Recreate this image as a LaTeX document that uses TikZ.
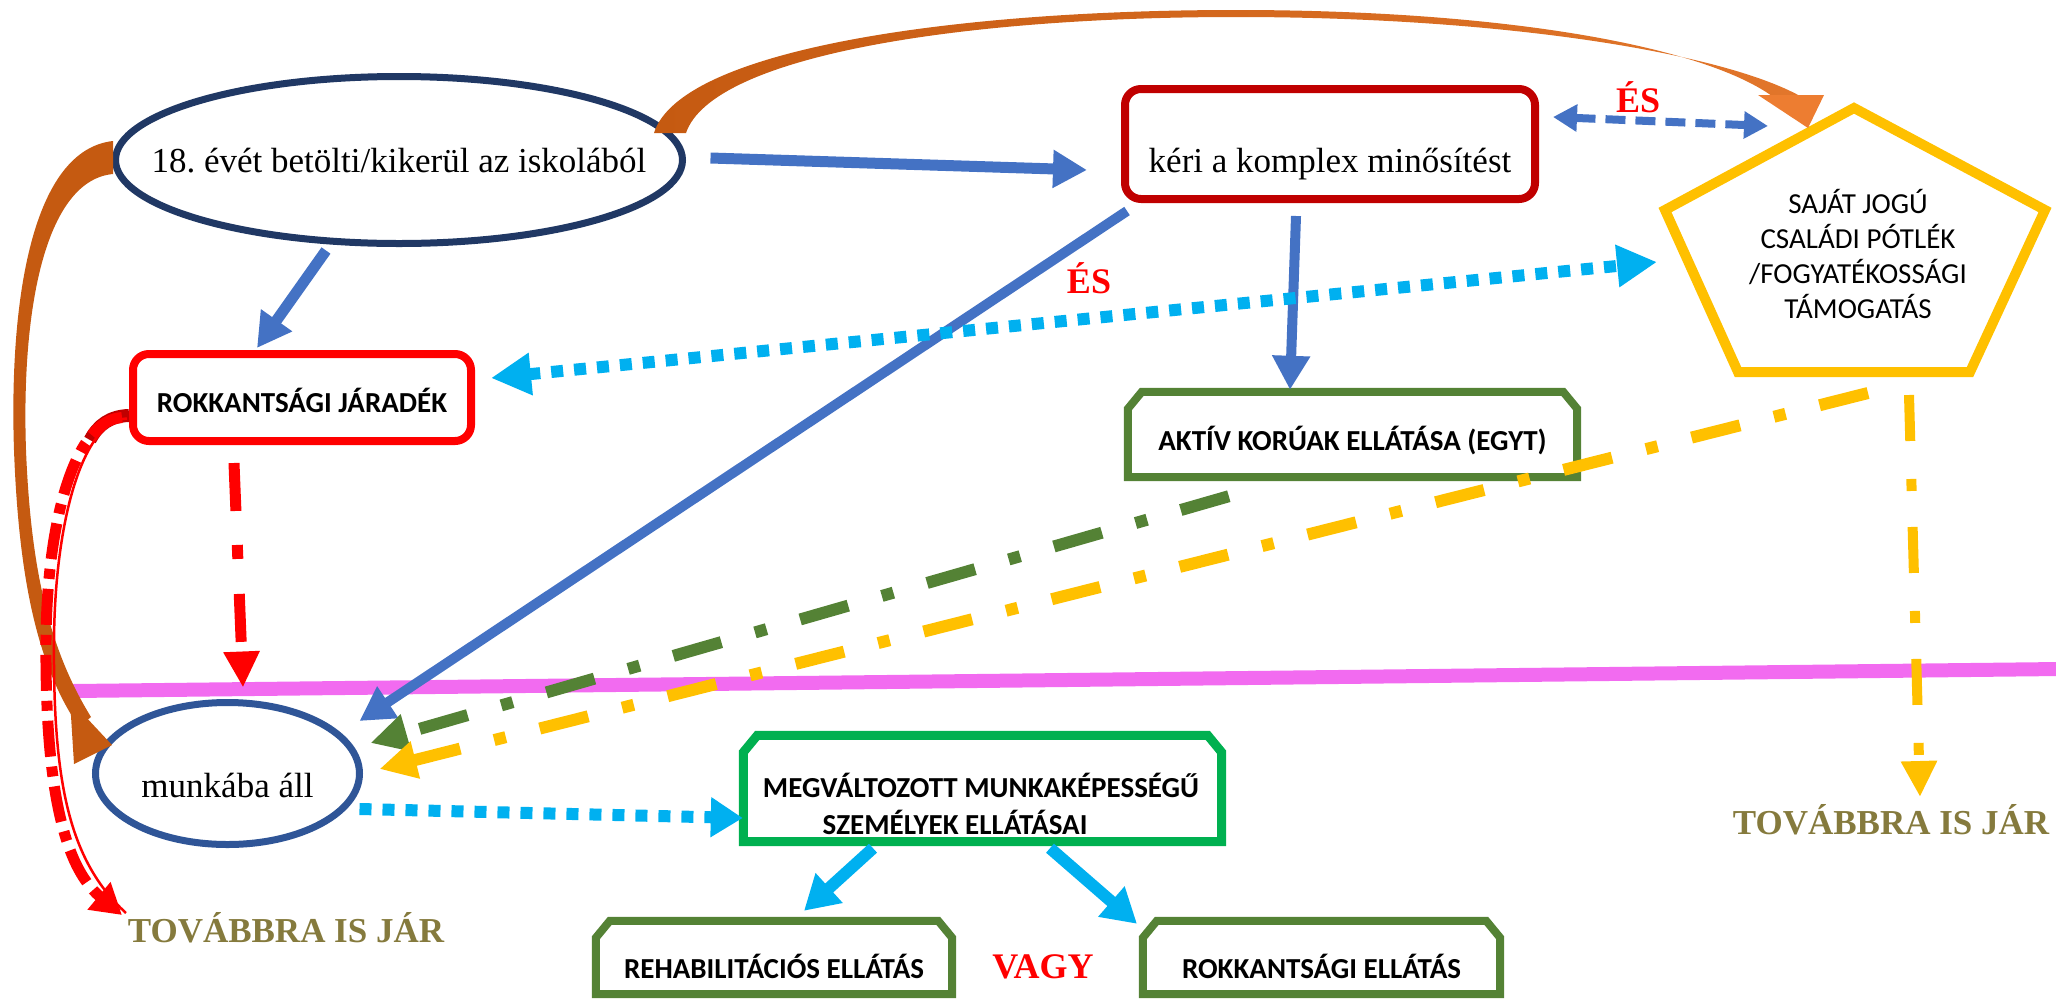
\documentclass[tikz,border=0pt]{standalone}
\usepackage{fontspec}
\setmainfont{Liberation Serif}
\newfontfamily\calib{Carlito}
\usetikzlibrary{arrows.meta,calc,shapes.geometric}
\frenchspacing
\definecolor{navy}{HTML}{203864}
\definecolor{munkblue}{HTML}{2F5597}
\definecolor{blueA}{HTML}{4472C4}
\definecolor{cyanA}{HTML}{00B0F0}
\definecolor{keriRed}{HTML}{C00000}
\definecolor{redA}{HTML}{FF0000}
\definecolor{greenA}{HTML}{548235}
\definecolor{greenB}{HTML}{00B050}
\definecolor{yel}{HTML}{FFC000}
\definecolor{orgdark}{HTML}{C55A11}
\definecolor{orglight}{HTML}{E2762B}
\definecolor{orghead}{HTML}{ED7D31}
\definecolor{pinkA}{HTML}{F26BF0}
\definecolor{oliveA}{HTML}{857A3D}
\newcommand\serifL{\fontsize{35pt}{42pt}\selectfont}
\newcommand\calibB{\calib\bfseries\fontsize{29pt}{35pt}\selectfont}
\newcommand\calibR{\calib\fontsize{29pt}{35.3pt}\selectfont}
\newcommand\esfont{\bfseries\fontsize{36pt}{40pt}\selectfont}
\newcommand\tovfont{\bfseries\fontsize{35pt}{40pt}\selectfont}
\newcommand\snipbox[2]{\draw[#2] (#1.south west) -- ([yshift=-17pt]#1.north west) -- ([xshift=14pt]#1.north west) -- ([xshift=-14pt]#1.north east) -- ([yshift=-17pt]#1.north east) -- (#1.south east) -- cycle;}
\begin{document}
\frenchspacing
\begin{tikzpicture}[x=1pt,y=-1pt,
  ell/.style={ellipse, line width=7pt, fill=white, inner sep=0pt, font=\serifL, text depth=0pt},
  rbox/.style={rectangle, rounded corners=16pt, line width=8pt, fill=white, inner sep=0pt, text depth=0pt},
  sbox/.style={rectangle, inner sep=0pt, text depth=0pt, font=\calibB},
  gbox/.style={draw=greenA, line width=8pt, line join=miter},
  mbox/.style={draw=greenB, line width=9pt, line join=miter},
  bluearr/.style={draw=blueA, line width=11pt, -{Triangle[length=34pt,width=36pt]}},
  cyandot/.style={draw=cyanA, line width=12pt, dash pattern=on 12pt off 11pt},
  cyanarr/.style={draw=cyanA, line width=12pt, -{Triangle[length=34pt,width=38pt]}},
  ddash/.style={line width=12pt, dash pattern=on 50pt off 35pt on 12pt off 35pt},
  lbl/.style={anchor=base, inner sep=0pt}
]
\useasboundingbox (0,0) rectangle (2056,1002);

% separating line
\coordinate (pinkL) at (73,691);
\coordinate (pinkR) at (2060,669);
\draw[pinkA, line width=14pt] (pinkL) -- (pinkR);

% nodes
\node[ell, draw=navy, minimum width=567pt, minimum height=167pt, text height=24pt] (school) at (399,160) {\makebox[0pt]{18. évét betölti/kikerül az iskolából}};
\node[rbox, draw=keriRed, minimum width=410pt, minimum height=110pt, font=\serifL, text height=56pt] (keri) at (1330,144) {kéri a komplex minősítést};
\node[rbox, draw=redA, minimum width=338pt, minimum height=87pt, font=\calibB, text height=29pt] (rokk) at (302,397.5) {ROKKANTSÁGI JÁRADÉK};
\node[sbox, minimum width=449pt, minimum height=85pt, text height=31pt] (aktiv) at (1352.5,434.5) {AKTÍV KORÚAK ELLÁTÁSA (EGYT)};
\snipbox{aktiv}{gbox}
\node[ell, draw=munkblue, minimum width=264pt, minimum height=142pt, text height=47pt] (munka) at (227.5,773.5) {\makebox[0pt]{munkába áll}};
\node[sbox, minimum width=478pt, minimum height=106pt] (megv) at (982.5,788.5) {};
\snipbox{megv}{mbox}
\node[lbl, font=\calibB] (megv1) at (981,797) {MEGVÁLTOZOTT MUNKAKÉPESSÉGŰ};
\node[lbl, font=\calibB] (megv2) at (955,834) {SZEMÉLYEK ELLÁTÁSAI};
\node[sbox, minimum width=356pt, minimum height=73pt, text height=41pt] (rehab) at (774,957.5) {REHABILITÁCIÓS ELLÁTÁS};
\snipbox{rehab}{gbox}
\node[sbox, minimum width=357pt, minimum height=73pt, text height=41pt] (rokkell) at (1321.5,957.5) {ROKKANTSÁGI ELLÁTÁS};
\snipbox{rokkell}{gbox}

% pentagon
\coordinate (pT) at (1854,108);
\coordinate (pR) at (2045,210);
\coordinate (pBR) at (1970,372);
\coordinate (pBL) at (1738,372);
\coordinate (pL) at (1665,210);
\draw[yel, line width=10pt, line join=miter] (pT) -- (pR) -- (pBR) -- (pBL) -- (pL) -- cycle;
\node[font=\calibR, align=center, inner sep=0pt] (pent) at (1858,254) {SAJÁT JOGÚ\\CSALÁDI PÓTLÉK\\/FOGYATÉKOSSÁGI\\TÁMOGATÁS};

% labels
\node[lbl, font=\esfont, text=redA] (es1) at (1638,112) {ÉS};
\node[lbl, font=\esfont, text=redA] (es2) at (1089,293) {ÉS};
\node[lbl, font=\esfont, text=redA] (vagy) at (1043,978) {VAGY};
\node[lbl, font=\tovfont, text=oliveA] (tovL) at (286,942) {TOVÁBBRA IS JÁR};
\node[lbl, font=\tovfont, text=oliveA] (tovR) at (1891,834) {TOVÁBBRA IS JÁR};

% orange curved arrow on top (school -> pentagon)
\shade[left color=orgdark, right color=orglight]
  (654,133) .. controls (680,50) and (950,10) .. (1236,10)
  .. controls (1500,10) and (1700,45) .. (1772,96)
  -- (1800,96) .. controls (1720,52) and (1500,17) .. (1236,17)
  .. controls (960,17) and (712,56) .. (686,133) -- cycle;
\fill[orghead] (1758,95) -- (1824,95) -- (1808,128) -- cycle;

% orange curved arrow on the left (school -> munka)
\fill[orgdark]
  (113,141) .. controls (32,150) and (9,300) .. (14,450)
  .. controls (19,585) and (39,668) .. (79,727)
  -- (91,717) .. controls (51,652) and (31,575) .. (26,450)
  .. controls (21,300) and (48,180) .. (113,174) -- cycle;
\fill[orgdark] (70,700) -- (112,745) -- (74,764) -- cycle;

% red dashed curved arrow (rokk -> tovL)
\draw[keriRed, line width=13pt] ([shift={(0,18)}]rokk.west) .. controls (110,416) and (98,425) .. (90,440);
\draw[redA, line width=2.5pt] ([shift={(-2,21)}]rokk.west) .. controls (83,420) and (55,520) .. (54,640) .. controls (53,780) and (68,860) .. ([shift={(-160,-29)}]tovL.base);
\draw[redA, line width=11pt, dash pattern=on 36pt off 10pt on 10pt off 10pt, -{Triangle[length=30pt,width=34pt]}]
  ([shift={(-7,20)}]rokk.west) .. controls (75,420) and (47,520) .. (46,640) .. controls (45,780) and (62,865) .. ([shift={(-164,-27)}]tovL.base);

% blue arrows
\draw[bluearr] ([shift={(24.5,-2)}]school.east) -- ([shift={(-34,26)}]keri.west);
\draw[bluearr] ([shift={(-73,3.5)}]school.south) -- ([shift={(-45,-2)}]rokk.north);
\draw[bluearr, line width=10pt] ([shift={(-34,13)}]keri.south) -- ([shift={(-62.5,-2)}]aktiv.north);
\draw[bluearr, line width=10pt] ([shift={(6,8)}]keri.south west) -- ([shift={(-3.5,-52.5)}]munka.east);
\draw[blueA, line width=8pt, dash pattern=on 20pt off 10pt, {Triangle[length=24pt,width=26pt]}-{Triangle[length=24pt,width=26pt]}]
  ([shift={(14,-27)}]keri.east) -- ([shift={(-86,18)}]pT);

% cyan dotted
\draw[cyandot, {Triangle[length=40pt,width=40pt]}-{Triangle[length=40pt,width=40pt]}]
  ([shift={(16,-19.5)}]rokk.east) -- ([shift={(-8,52)}]pL);
\draw[cyandot, -{Triangle[length=32pt,width=38pt]}]
  ([shift={(-3.5,35.5)}]munka.east) -- ([shift={(-0.5,29.5)}]megv.west);

% red dash-dot (rokk -> munka)
\draw[redA, line width=11pt, dash pattern=on 48pt off 34pt on 14pt off 35pt, -{Triangle[length=36pt,width=34pt]}]
  ([shift={(-68,18)}]rokk.south) -- ([shift={(15.5,-11.5)}]munka.north);

% green and yellow dash-dot
\draw[greenA, ddash, -{Triangle[length=37pt,width=36pt]}]
  ([shift={(101,19)}]aktiv.south west) -- ([shift={(7.5,-30.5)}]munka.east);
\draw[yel, ddash, -{Triangle[length=37pt,width=36pt]}]
  ([shift={(130,21)}]pBL) -- ([shift={(16.5,-4.5)}]munka.east);
\draw[yel, line width=10pt, dash pattern=on 46pt off 38pt on 12pt off 36pt, -{Triangle[length=36pt,width=34pt]}]
  ([shift={(-61,23)}]pBR) -- ([shift={(29,-37)}]tovR.base);

% cyan arrows from megv
\draw[cyanarr] ([shift={(-109.5,6.5)}]megv.south) -- ([shift={(30,-10)}]rehab.north);
\draw[cyanarr] ([shift={(67.5,6.5)}]megv.south) -- ([shift={(-184.5,3)}]rokkell.north);
\end{tikzpicture}
\end{document}
